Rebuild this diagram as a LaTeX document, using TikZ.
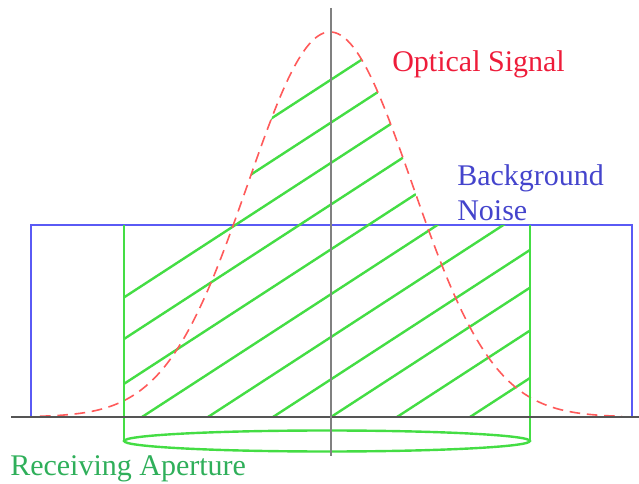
\documentclass[tikz,border=0pt]{standalone}
\usepackage{fontspec}
\setmainfont{Liberation Serif}
\definecolor{signal}{HTML}{FF5A5A}
\definecolor{signaltext}{HTML}{EE1C3A}
\definecolor{noise}{HTML}{5A5AF5}
\definecolor{noisetext}{HTML}{4444CC}
\definecolor{aperture}{HTML}{44DD44}
\definecolor{aperturetext}{HTML}{2FAF5A}
\definecolor{axisgray}{HTML}{555555}
\newcommand{\gauss}[1]{417-385*exp(-0.5*((#1-330)/82)*((#1-330)/82))}

\begin{document}
\begin{tikzpicture}[x=0.75pt, y=-0.75pt, font=\fontsize{22.5}{26.25}\selectfont,
    hatch/.style={aperture, line width=1.8pt},
    textlabel/.style={inner sep=0pt, anchor=base west}]
  \useasboundingbox (0,0) rectangle (639,484);
  \draw[noise, line width=1.2pt] (31,417) rectangle (632,225);
  \begin{scope}
    \clip plot[domain=124:530, samples=200] (\x, {min(\gauss{\x}, 225)}) -- (530,417) -- (124,417) -- cycle;
    \foreach \s in {-60,4,73,142,208,273,331,397,470}
      \draw[hatch] (\s,417) -- ++(700,-455);
    \clip (124,0) rectangle (530,225);
    \foreach \s in {-188,-122}
      \draw[hatch] (\s,417) -- ++(700,-455);
  \end{scope}
  \draw[signal, line width=1.2pt, dash pattern=on 8pt off 5pt] plot[domain=40:622, samples=200, smooth] (\x, {\gauss{\x}});
  \draw[aperture, line width=1.8pt] (124,225) -- (124,441) (530,225) -- (530,441);
  \draw[aperture, line width=1.8pt] (327,441) ellipse (203 and 10.5);
  \draw[axisgray, line width=1.3pt] (11,417) -- (639,417);
  \draw[gray, line width=2pt] (331,8) -- (331,456);
  \node[textlabel, text=signaltext] (signal) at (392,72) {Optical Signal};
  \node[textlabel, text=noisetext, align=left] (noise) at (457,221) {Background\\Noise};
  \node[textlabel, text=aperturetext] (aperture) at (10,475) {Receiving Aperture};
\end{tikzpicture}
\end{document}
